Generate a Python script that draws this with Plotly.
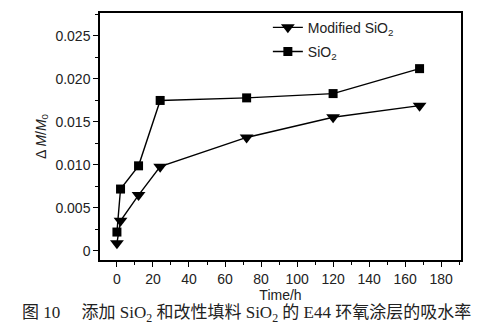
import plotly.graph_objects as go

time_h = [0, 2, 12, 24, 72, 120, 168]
modified_sio2 = [0.0009, 0.0035, 0.0065, 0.0098, 0.0132, 0.01555, 0.0169]
sio2 = [0.0022, 0.0072, 0.0099, 0.0175, 0.0178, 0.0183, 0.0212]

x_ticks = [0, 20, 40, 60, 80, 100, 120, 140, 160, 180]
y_ticks = [0, 0.005, 0.010, 0.015, 0.020, 0.025]
y_tick_text = ["0", "0.005", "0.010", "0.015", "0.020", "0.025"]

font_sans = "Liberation Sans, Arial, sans-serif"

fig = go.Figure()
fig.add_trace(go.Scatter(
    x=time_h, y=modified_sio2, mode="lines+markers",
    name="Modified SiO<sub>2</sub>", legendgroup="a",
    line=dict(color="black", width=1.4),
    marker=dict(symbol="triangle-down", size=12, color="black"),
))
fig.add_trace(go.Scatter(
    x=time_h, y=sio2, mode="lines+markers",
    name="SiO<sub>2</sub>", legendgroup="b",
    line=dict(color="black", width=1.4),
    marker=dict(symbol="square", size=9, color="black"),
))

fig.update_layout(
    width=492, height=333,
    margin=dict(l=100, r=31, t=13, b=73),
    paper_bgcolor="white", plot_bgcolor="white",
    font=dict(family=font_sans, size=14, color="#222"),
    showlegend=True,
    legend=dict(
        x=0.465, y=1.005, xanchor="left", yanchor="top",
        bgcolor="rgba(0,0,0,0)", borderwidth=0,
        font=dict(family=font_sans, size=14, color="#222"),
        tracegroupgap=3,
    ),
    xaxis=dict(
        range=[-9.4, 191], tickvals=x_ticks,
        ticks="outside", ticklen=5, tickwidth=1, tickcolor="black",
        minor=dict(ticks="outside", ticklen=3, tickcolor="black", dtick=10),
        showline=True, linecolor="black", linewidth=1.5, mirror=True,
        showgrid=False, zeroline=False,
        title=dict(text="Time/h", font=dict(family=font_sans, size=14), standoff=0),
        tickfont=dict(family=font_sans, size=14),
    ),
    yaxis=dict(
        range=[-0.00105, 0.02767], tickvals=y_ticks, ticktext=y_tick_text,
        ticks="outside", ticklen=5, tickwidth=1, tickcolor="black",
        minor=dict(ticks="outside", ticklen=3, tickcolor="black", dtick=0.0025),
        showline=True, linecolor="black", linewidth=1.5, mirror=True,
        showgrid=False, zeroline=False,
        title=dict(text="Δ <i>M</i>/<i>M</i><sub>0</sub>", font=dict(family=font_sans, size=14), standoff=6),
        tickfont=dict(family=font_sans, size=14),
    ),
)

fig.add_annotation(
    text="图 10　 添加 SiO<sub>2</sub> 和改性填料 SiO<sub>2</sub> 的 E44 环氧涂层的吸水率",
    xref="paper", yref="paper", x=-0.222, y=-0.165, xanchor="left", yanchor="top",
    showarrow=False,
    font=dict(family="Liberation Serif, Noto Sans CJK SC, serif", size=17, color="#222"),
)

fig.write_html("out.html")
